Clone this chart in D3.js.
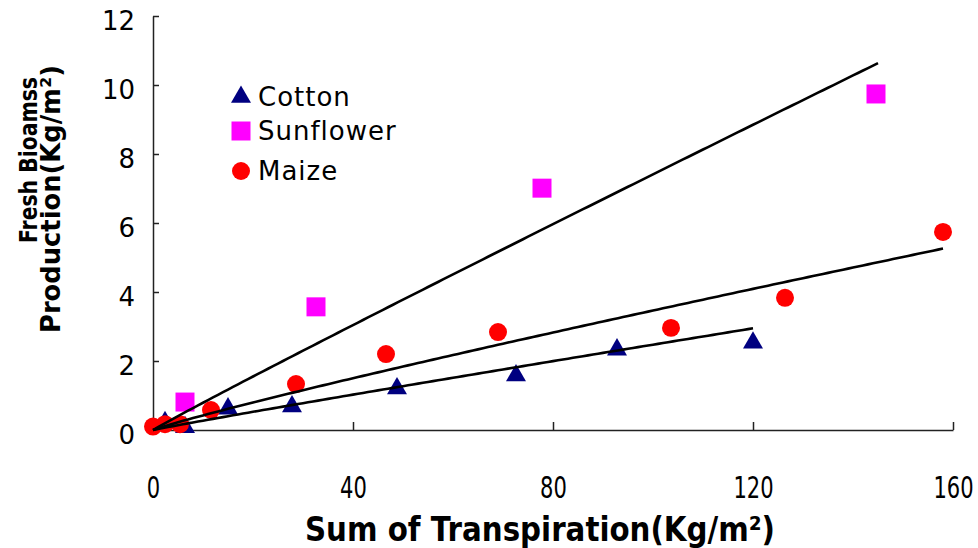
<!DOCTYPE html>
<html>
<head>
<meta charset="utf-8">
<script src="https://cdn.jsdelivr.net/npm/d3@7"></script>
<style>
  body { margin: 0; background: #fff; }
  svg { display: block; }
  text { font-family: 'DejaVu Sans', Verdana, sans-serif; fill: #000; }
</style>
</head>
<body>
<svg id="chart" width="978" height="548"></svg>
<script>
// Cumulative transpiration (kg/m2) vs fresh biomass (kg/m2)
const seriesNames = ["Cotton", "Sunflower", "Maize"];
const seriesColors = ["#000080", "#ff00ff", "#ff0000"];

const cottonX = [2.4, 6.4, 15, 27.8, 48.8, 72.6, 92.8, 120];
const cottonY = [0.22, 0.08, 0.62, 0.68, 1.2, 1.58, 2.33, 2.53];

const sunflowerX = [6.4, 32.6, 77.8, 144.6];
const sunflowerY = [0.81, 3.57, 7.01, 9.74];

const maizeX = [0, 2.4, 5.4, 11.6, 28.6, 46.6, 69, 103.6, 126.4, 158];
const maizeY = [0.1, 0.17, 0.17, 0.58, 1.33, 2.2, 2.84, 2.96, 3.83, 5.74];

// Fitted power trends  y = a * x^b  (cotton, sunflower, maize)
const trendA = [0.0296, 0.0843, 0.0517];
const trendB = [0.961, 0.972, 0.913];
const trendMaxX = [120, 145, 158];

const xTicks = [0, 40, 80, 120, 160];
const yTicks = [0, 2, 4, 6, 8, 10, 12];

const svg = d3.select("#chart");

const x = d3.scaleLinear().domain([0, 160]).range([153, 953]);
const y = d3.scaleLinear().domain([0, 12]).range([430, 16]);

// Y axis (ticks point inward)
const yAxis = svg.append("g")
  .attr("transform", `translate(${x(0)},0)`)
  .call(d3.axisLeft(y).tickValues(yTicks).tickSize(-6).tickSizeOuter(0).tickPadding(18));
yAxis.select(".domain").attr("stroke", "#222").attr("stroke-width", 1.5);
yAxis.selectAll(".tick line").attr("stroke", "#222").attr("stroke-width", 1.5);
yAxis.selectAll(".tick text")
  .attr("font-size", 26)
  .attr("font-family", "'DejaVu Sans', Verdana, sans-serif")
  .attr("fill", "#000")
  .attr("dy", "0.5em");

// X axis (ticks point inward, narrow labels)
const xAxis = svg.append("g")
  .attr("transform", `translate(0,${y(0)})`)
  .call(d3.axisBottom(x).tickValues(xTicks).tickSize(-8).tickSizeOuter(0));
xAxis.select(".domain").attr("stroke", "#222").attr("stroke-width", 1.5);
xAxis.selectAll(".tick line").attr("stroke", "#222").attr("stroke-width", 1.5);
xAxis.selectAll(".tick text")
  .attr("font-size", 31)
  .attr("font-family", "'DejaVu Sans', Verdana, sans-serif")
  .attr("fill", "#000")
  .attr("y", 57)
  .attr("dy", "0.35em")
  .attr("transform", "scale(0.68,1)");

// Axis titles
svg.append("text")
  .attr("x", 305).attr("y", 541)
  .attr("font-size", 34).attr("font-weight", "bold")
  .attr("textLength", 470).attr("lengthAdjust", "spacingAndGlyphs")
  .text("Sum of  Transpiration(Kg/m²)");

svg.append("text")
  .attr("transform", "translate(37,160) rotate(-90)")
  .attr("text-anchor", "middle")
  .attr("font-size", 25).attr("font-weight", "bold")
  .attr("textLength", 166).attr("lengthAdjust", "spacingAndGlyphs")
  .text("Fresh Bioamss");

svg.append("text")
  .attr("transform", "translate(60,199) rotate(-90)")
  .attr("text-anchor", "middle")
  .attr("font-size", 26).attr("font-weight", "bold")
  .attr("textLength", 268).attr("lengthAdjust", "spacingAndGlyphs")
  .text("Production(Kg/m²)");

// Marker shapes
const symbols = [
  d3.symbol().type(d3.symbolTriangle).size(173),
  d3.symbol().type(d3.symbolSquare).size(361),
  d3.symbol().type(d3.symbolCircle).size(254)
];

const series = [
  { xs: cottonX, ys: cottonY },
  { xs: sunflowerX, ys: sunflowerY },
  { xs: maizeX, ys: maizeY }
];

// Points (sunflower first, then cotton, maize on top near the origin)
[1, 0, 2].forEach(i => {
  const pts = series[i].xs.map((v, k) => [v, series[i].ys[k]]);
  svg.append("g").selectAll("path")
    .data(pts)
    .join("path")
    .attr("transform", d => `translate(${x(d[0])},${y(d[1])})`)
    .attr("d", symbols[i]())
    .attr("fill", seriesColors[i]);
});

// Trend lines
const line = d3.line().x(d => x(d[0])).y(d => y(d[1]));
trendA.forEach((a, i) => {
  const xs = d3.range(0, trendMaxX[i], 1).concat([trendMaxX[i]]);
  const pts = xs.map(v => [v, a * Math.pow(v, trendB[i])]);
  svg.append("path")
    .attr("d", line(pts))
    .attr("fill", "none")
    .attr("stroke", "#000")
    .attr("stroke-width", 2.6);
});

// Legend
const legendY = [97, 131, 171];
const legend = svg.append("g");
seriesNames.forEach((name, i) => {
  legend.append("path")
    .attr("transform", `translate(241,${legendY[i]})`)
    .attr("d", symbols[i]())
    .attr("fill", seriesColors[i]);
  legend.append("text")
    .attr("x", 258).attr("y", legendY[i] + 9)
    .attr("font-size", 26)
    .attr("letter-spacing", 1)
    .text(name);
});
</script>
</body>
</html>
